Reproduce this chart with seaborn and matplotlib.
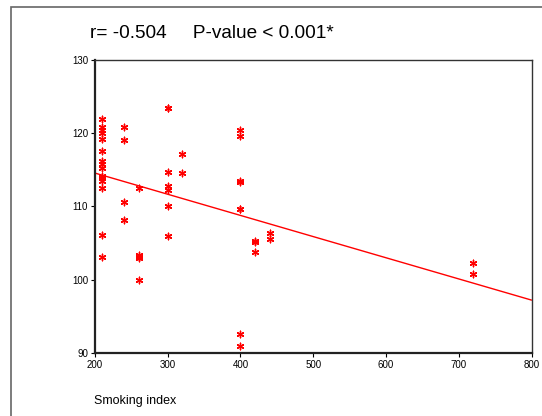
import numpy as np
import pandas as pd
import matplotlib
matplotlib.use('Agg')
import matplotlib.pyplot as plt
import seaborn as sns
from matplotlib.patches import Rectangle

# smoking index vs value
smoking_index = [210, 210, 210, 210, 210, 210, 210, 210, 210, 210, 210, 210, 210, 210, 210,
                 240, 240, 240, 240,
                 260, 260, 260, 260, 260,
                 300, 300, 300, 300, 300, 300, 300,
                 320, 320,
                 400, 400, 400, 400, 400, 400, 400, 400,
                 420, 420, 420,
                 440, 440,
                 720, 720]
values = [122.0, 120.8, 120.4, 120.0, 119.2, 117.5, 116.2, 115.8, 115.3, 114.2, 113.9, 113.5, 112.5, 106.1, 103.1,
          120.9, 119.1, 110.6, 108.1,
          112.5, 103.3, 103.1, 103.0, 99.9,
          123.5, 123.4, 114.7, 112.8, 112.3, 110.0, 106.0,
          117.1, 114.5,
          120.5, 119.6, 113.4, 113.3, 109.7, 109.6, 92.5, 90.9,
          105.3, 105.1, 103.8,
          106.4, 105.6,
          102.2, 100.8]

df = pd.DataFrame({'smoking': smoking_index, 'value': values})

sns.set_style('white')
plt.rcParams['font.family'] = ['Liberation Sans', 'DejaVu Sans']
plt.rcParams['text.color'] = 'black'

fig = plt.figure(figsize=(5.42, 4.16), dpi=100)
ax = fig.add_axes([95 / 542, 1 - 352.7 / 416, (531.5 - 95) / 542, (352.7 - 60) / 416])
ax.set_xlim(200, 800)
ax.set_ylim(90, 130)

sns.regplot(data=df, x='smoking', y='value', ci=None, ax=ax,
            marker=(6, 2, 0), truncate=False,
            scatter_kws={'s': 22, 'color': 'red', 'linewidths': 1.0, 'alpha': 1},
            line_kws={'color': 'red', 'linewidth': 1.0})

ax.set_xlim(200, 800)
ax.set_ylim(90, 130)
ax.set_xticks([200, 300, 400, 500, 600, 700, 800])
ax.set_yticks([90, 100, 110, 120, 130])
ax.tick_params(axis='both', labelsize=7, length=3, width=0.8, direction='out',
               bottom=True, left=True, pad=2, colors='black')
ax.set_xlabel('')
ax.set_ylabel('')

for side in ['left', 'bottom']:
    ax.spines[side].set_linewidth(1.6)
    ax.spines[side].set_color('#222222')
for side in ['top', 'right']:
    ax.spines[side].set_linewidth(1.0)
    ax.spines[side].set_color('#333333')

fig.text(90 / 542, 1 - 34 / 416, 'r= -0.504     P-value < 0.001*', fontsize=13.7,
         va='center', ha='left', color='black')
fig.text(94 / 542, 1 - 401 / 416, 'Smoking index', fontsize=9, va='center', ha='left',
         color='black')

# outer frame around the chart
fig.patches.append(Rectangle((11 / 542, -0.1), 1.2, 1.1 - 6.5 / 416, transform=fig.transFigure,
                             fill=False, edgecolor='#666666', linewidth=1.2))

fig.savefig('out.png', dpi=100)
